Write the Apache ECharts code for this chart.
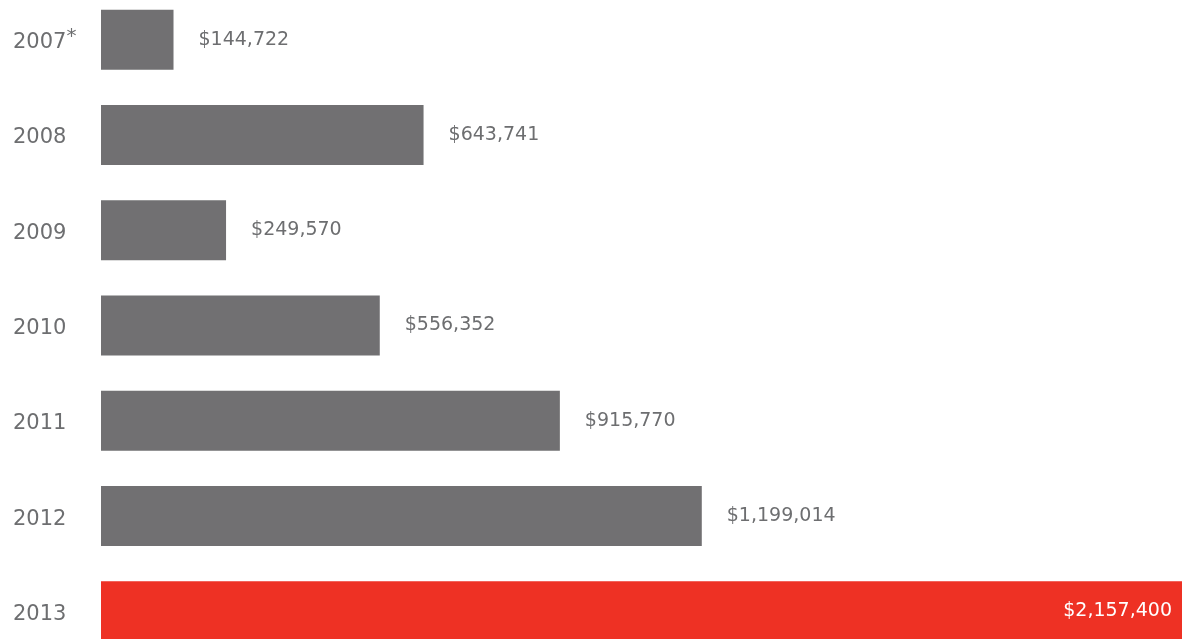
<!DOCTYPE html>
<html>
<head>
<meta charset="utf-8">
<script src="https://cdn.jsdelivr.net/npm/echarts@6/dist/echarts.min.js"></script>
<style>
  html, body { margin: 0; padding: 0; background: #fff; }
  #chart { width: 1182px; height: 639px; }
</style>
</head>
<body>
<div id="chart"></div>
<script>
const years = ['2007*', '2008', '2009', '2010', '2011', '2012', '2013'];
const amounts = [144722, 643741, 249570, 556352, 915770, 1199014, 2157400];
const highlightYear = '2013';

const grey = '#717072';
const red = '#ee3124';
const textColor = '#6d6e70';
const font = 'DejaVu Sans';

const fmtMoney = v => '$' + v.toLocaleString('en-US');

const myChart = echarts.init(document.getElementById('chart'));

const option = {
  animation: false,
  grid: {
    left: 101,
    right: 0,
    top: -8,
    height: 667,
    outerBoundsMode: 'none'
  },
  xAxis: {
    type: 'value',
    min: 0,
    max: 2157400,
    show: false
  },
  yAxis: {
    type: 'category',
    data: years,
    inverse: true,
    axisLine: { show: false },
    axisTick: { show: false },
    axisLabel: {
      align: 'left',
      margin: 88,
      padding: [6, 0, 0, 0],
      color: textColor,
      fontFamily: font,
      fontSize: 21,
      formatter: function (v) {
        return v.indexOf('*') >= 0 ? v.replace('*', '') + '{sup|*}' : v;
      },
      rich: {
        sup: {
          color: textColor,
          fontFamily: font,
          fontSize: 20,
          verticalAlign: 'top',
          padding: [0, 0, 12, 0]
        }
      }
    }
  },
  series: [
    {
      type: 'bar',
      barCategoryGap: '37%',
      data: amounts.map((v, i) => {
        const hi = years[i] === highlightYear;
        return {
          value: v,
          itemStyle: { color: hi ? red : grey },
          label: hi
            ? { position: 'insideRight', distance: 10, color: '#fff' }
            : { position: 'right', distance: 25, color: textColor }
        };
      }),
      label: {
        show: true,
        fontFamily: font,
        fontSize: 19,
        formatter: p => fmtMoney(p.value)
      }
    }
  ]
};

myChart.setOption(option);
</script>
</body>
</html>
